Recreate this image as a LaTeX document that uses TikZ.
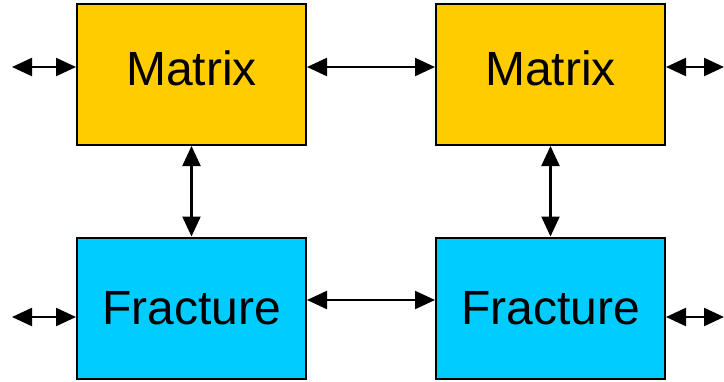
\documentclass[tikz,border=0pt]{standalone}
\usepackage{fontspec}
\setmainfont{Liberation Sans}
\usetikzlibrary{arrows.meta}
\definecolor{matrixfill}{HTML}{FFCC00}
\definecolor{fracfill}{HTML}{00CCFF}
\tikzset{
	block/.style={draw=black,line width=2pt,minimum width=229pt,minimum height=141pt,
		inner sep=0pt,font=\fontsize{48}{48}\selectfont},
	matrixbox/.style={block,fill=matrixfill,text depth=12pt},
	fracbox/.style={block,fill=fracfill},
	link/.style={line width=2.2pt,>={Triangle[length=20pt,width=18pt]},<->}
}

\begin{document}
\begin{tikzpicture}[x=1pt,y=-1pt]
				\useasboundingbox (0,0) rectangle (724,381);
				
				%the two cells, matrix on top and fracture below
				\node[matrixbox] (m1) at (191.5,74.5) {Matrix};
				\node[fracbox] (f1) at (191.5,308) {Fracture};
				\node[matrixbox] (m2) at (550.5,74.5) {Matrix};
				\node[fracbox] (f2) at (550.5,308) {Fracture};
				
				%free ends on both sides
				\coordinate (mIn) at (12,67);
				\coordinate (fIn) at (12,317);
				\coordinate (mOut) at (724,67);
				\coordinate (fOut) at (724,317);
				
				%exchange between the cells
				\draw[link] (mIn) -- (mIn -| m1.west);
				\draw[link] (fIn) -- (fIn -| f1.west);
				\draw[link] (m1.east |- mIn) -- (m2.west |- mIn);
				\draw[link] ([yshift=8pt]f1.east) -- ([yshift=8pt]f2.west);
				\draw[link] (m2.east |- mOut) -- (mOut);
				\draw[link] (f2.east |- fOut) -- (fOut);
				\draw[link] (m1.south) -- (f1.north);
				\draw[link] (m2.south) -- (f2.north);
			\end{tikzpicture}
\end{document}
